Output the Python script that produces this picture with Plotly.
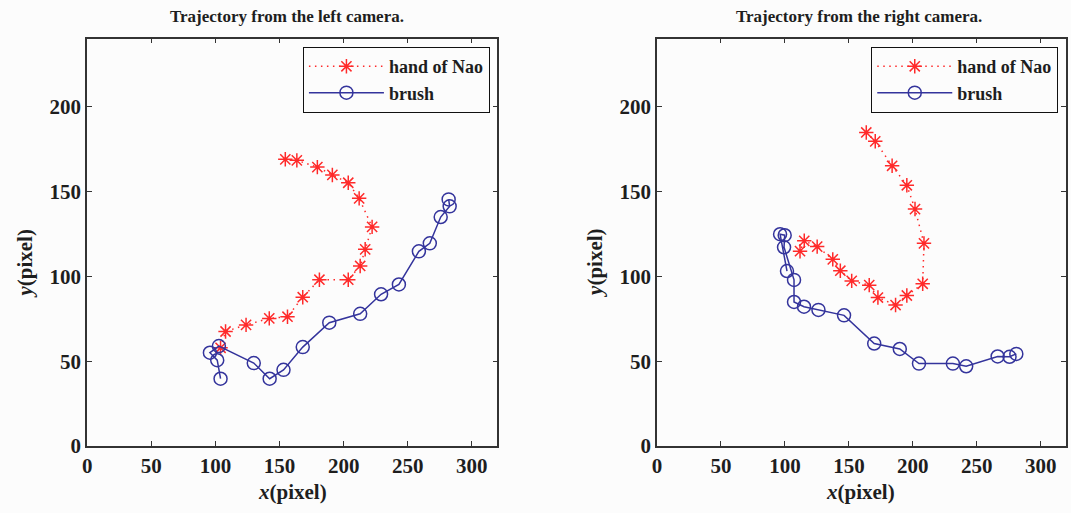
import plotly.graph_objects as go

W, H = 1071, 513

# ---- data (pixel coordinates) ----
left_hand_x = [104.0, 107.9, 123.9, 142.0, 156.2, 168.1, 181.1, 203.6, 212.9, 216.8, 222.2, 212.1, 203.6, 191.2, 179.5, 163.5, 154.5]
left_hand_y = [57.9, 67.5, 71.4, 75.2, 76.2, 87.7, 98.0, 98.0, 106.1, 115.9, 129.1, 145.9, 155.1, 159.7, 164.3, 168.3, 168.9]
left_brush_x = [104.0, 101.4, 95.7, 102.7, 129.9, 142.3, 153.1, 168.1, 188.8, 212.9, 229.2, 243.1, 258.7, 267.2, 275.7, 282.7, 281.9]
left_brush_y = [39.7, 50.6, 55.0, 58.9, 48.9, 39.7, 44.9, 58.3, 72.7, 77.9, 89.4, 95.2, 114.7, 119.4, 134.9, 141.2, 145.3]

right_hand_x = [163.6, 170.6, 183.8, 195.3, 201.7, 208.7, 207.7, 195.3, 186.5, 172.7, 165.9, 152.2, 143.3, 137.4, 125.2, 115.1, 111.8]
right_hand_y = [184.7, 179.5, 165.1, 153.6, 139.6, 119.4, 95.6, 88.7, 83.1, 87.5, 94.8, 97.3, 103.3, 110.0, 117.5, 120.9, 114.8]
right_brush_x = [101.6, 96.2, 99.8, 99.3, 107.1, 107.1, 114.9, 126.2, 146.2, 169.8, 189.8, 204.8, 231.3, 241.7, 266.3, 275.6, 280.9]
right_brush_y = [103.1, 124.8, 124.2, 117.1, 97.9, 84.9, 82.1, 80.2, 77.0, 60.4, 57.2, 48.6, 48.6, 47.0, 52.8, 52.6, 54.3]

x_ticks = [0, 50, 100, 150, 200, 250, 300]
y_ticks = [0, 50, 100, 150, 200]
x_range = [0, 320]
y_range = [0, 240]

titles = ["Trajectory from the left camera.", "Trajectory from the right camera."]
series_names = ["hand of Nao", "brush"]

RED = "#ff2a2a"
BLUE = "#34349c"
FONT = "Liberation Serif"
BG = "#fcfcfc"
TXT = "#1e1e1e"


def px(xp):
    return xp / W


def py(yp):
    return 1 - yp / H


fig = go.Figure()

panels = [
    dict(hx=left_hand_x, hy=left_hand_y, bx=left_brush_x, by=left_brush_y,
         xa="x", ya="y", leg="legend", dom=[px(82.6), px(494.8)]),
    dict(hx=right_hand_x, hy=right_hand_y, bx=right_brush_x, by=right_brush_y,
         xa="x2", ya="y2", leg="legend2", dom=[px(655.1), px(1066.3)]),
]

for p in panels:
    fig.add_trace(go.Scatter(
        x=p["hx"], y=p["hy"], mode="lines+markers", name=series_names[0],
        xaxis=p["xa"], yaxis=p["ya"], legend=p["leg"],
        line=dict(color=RED, width=1.5, dash="1.5px,4.5px"),
        marker=dict(symbol="asterisk-open", size=12, color=RED,
                    line=dict(color=RED, width=1.5)),
    ))
    fig.add_trace(go.Scatter(
        x=p["bx"], y=p["by"], mode="lines+markers", name=series_names[1],
        xaxis=p["xa"], yaxis=p["ya"], legend=p["leg"],
        line=dict(color=BLUE, width=1.5),
        marker=dict(symbol="circle-open", size=13, color=BLUE,
                    line=dict(color=BLUE, width=1.5)),
    ))

axis_common = dict(
    showline=True, linecolor="#333333", linewidth=1.8, mirror="ticks",
    ticks="inside", ticklen=5, tickwidth=1.2, tickcolor="#333333",
    showgrid=False, zeroline=False,
    tickfont=dict(family=FONT, size=21, color=TXT, weight="bold"),
    fixedrange=True,
)

ydom = [py(456.8), py(39.5)]
fig.update_layout(
    width=W, height=H,
    margin=dict(l=0, r=0, t=0, b=0),
    paper_bgcolor=BG, plot_bgcolor=BG,
    showlegend=True,
    xaxis=dict(domain=panels[0]["dom"], range=x_range, tickvals=x_ticks, anchor="y", **axis_common),
    yaxis=dict(domain=ydom, range=y_range, tickvals=y_ticks, anchor="x", **axis_common),
    xaxis2=dict(domain=panels[1]["dom"], range=x_range, tickvals=x_ticks, anchor="y2", **axis_common),
    yaxis2=dict(domain=ydom, range=y_range, tickvals=y_ticks, anchor="x2", **axis_common),
)

legend_common = dict(
    bgcolor=BG, bordercolor="#111111", borderwidth=1.2,
    font=dict(family=FONT, size=18, color=TXT, weight="bold"),
    xanchor="right", yanchor="top", itemwidth=75,
    tracegroupgap=0,
)
fig.update_layout(
    legend=dict(x=px(487), y=py(48), **legend_common),
    legend2=dict(x=px(1058), y=py(48), **legend_common),
)

# titles
for cx, t in zip([283, 858], titles):
    fig.add_annotation(x=px(cx), y=py(17), xref="paper", yref="paper", text=t,
                       showarrow=False, xanchor="center", yanchor="middle",
                       font=dict(family=FONT, size=17, color=TXT, weight="bold"))

# axis labels
for cx in [289, 860]:
    fig.add_annotation(x=px(cx), y=py(504), xref="paper", yref="paper",
                       text="<i>x</i>(pixel)", showarrow=False,
                       xanchor="center", yanchor="middle",
                       font=dict(family=FONT, size=21, color=TXT, weight="bold"))
for cx in [20, 592]:
    fig.add_annotation(x=px(cx), y=py(270), xref="paper", yref="paper",
                       text="<i>y</i>(pixel)", showarrow=False, textangle=-90,
                       xanchor="center", yanchor="middle",
                       font=dict(family=FONT, size=21, color=TXT, weight="bold"))

page_fix = (
    "document.documentElement.style.margin='0';"
    "document.documentElement.style.overflow='hidden';"
    "document.body.style.margin='0';"
    "document.body.style.overflow='hidden';"
    "document.body.style.background='#fcfcfc';"
)
fig.write_html("out.html", post_script=page_fix, config={"displayModeBar": False})
